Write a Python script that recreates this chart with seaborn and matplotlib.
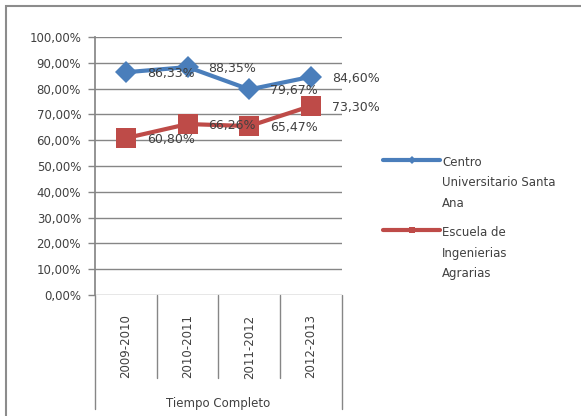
import pandas as pd
import matplotlib
matplotlib.use("Agg")
import matplotlib.pyplot as plt
import matplotlib.patches as mpatches
from matplotlib.ticker import FuncFormatter
import seaborn as sns

# Werte
periodos = ["2009-2010", "2010-2011", "2011-2012", "2012-2013"]
centro_santa_ana = [86.33, 88.35, 79.67, 84.60]
escuela_agrarias = [60.80, 66.26, 65.47, 73.30]
serie_nombres = ["Centro\nUniversitario Santa\nAna", "Escuela de\nIngenierias\nAgrarias"]
eje_x_titulo = "Tiempo Completo"

df = pd.concat([
    pd.DataFrame({"periodo": periodos, "valor": centro_santa_ana, "serie": serie_nombres[0]}),
    pd.DataFrame({"periodo": periodos, "valor": escuela_agrarias, "serie": serie_nombres[1]}),
])

sns.set_theme(style="white")
plt.rcParams["font.family"] = ["DejaVu Sans"]

fig = plt.figure(figsize=(5.81, 4.16), dpi=100)
ax = fig.add_axes([95 / 581, 1 - 295 / 416, 247 / 581, 258 / 416])

colores = {serie_nombres[0]: "#4a7ebb", serie_nombres[1]: "#be4b48"}
marcadores = {serie_nombres[0]: "D", serie_nombres[1]: "s"}

sns.lineplot(
    data=df, x="periodo", y="valor", hue="serie", style="serie",
    palette=colores, markers=marcadores, dashes=False,
    linewidth=3, markersize=12, markeredgewidth=0, ax=ax, sort=False,
)

# Groesse der Marker je Serie anpassen
for linea, nombre in zip(ax.lines, serie_nombres):
    linea.set_markersize(11 if marcadores[nombre] == "D" else 14)
    linea.set_zorder(3)

# Datenbeschriftungen rechts neben den Punkten
for valores in [centro_santa_ana, escuela_agrarias]:
    for i, v in enumerate(valores):
        ax.annotate(f"{v:.2f}%".replace(".", ","), (i, v), xytext=(15, -1),
                    textcoords="offset points", va="center", ha="left",
                    fontsize=9, color="#404040", zorder=5)

ax.set_ylim(0, 100)
ax.set_xlim(-0.5, len(periodos) - 0.5)
ax.set_yticks(range(0, 101, 10))
ax.yaxis.set_major_formatter(FuncFormatter(lambda v, p: f"{v:.2f}%".replace(".", ",")))
ax.grid(axis="y", color="#868686", linewidth=1)
ax.set_axisbelow(True)
for s in ["top", "right", "bottom"]:
    ax.spines[s].set_visible(False)
ax.spines["left"].set_color("#868686")
ax.tick_params(axis="y", left=True, length=5, width=1, color="#868686",
               pad=5, labelsize=8.5, labelcolor="#404040")
ax.tick_params(axis="x", bottom=False, pad=8, labelsize=8.5, labelcolor="#404040")
plt.setp(ax.get_xticklabels(), rotation=90, va="top")
ax.set_xlabel(eje_x_titulo, fontsize=8.5, color="#404040", labelpad=13)
ax.set_ylabel("")

# Trennlinien der Kategorien unter der Achse
trans = ax.get_xaxis_transform()
for k in range(len(periodos) + 1):
    unten = -0.44 if k in (0, len(periodos)) else -0.32
    ax.plot([k - 0.5, k - 0.5], [0, unten], transform=trans, color="#868686",
            linewidth=1, clip_on=False)

# Legende
leg = ax.legend(handlelength=4.9, fontsize=8.5, frameon=False, loc="upper left",
                bbox_to_anchor=(372 / 581, 1 - 145 / 416), bbox_transform=fig.transFigure,
                labelspacing=1.4, handletextpad=0.15, labelcolor="#404040")
for h in leg.legend_handles:
    h.set_markersize(4)
    h.set_linewidth(3)
for t in leg.get_texts():
    t.set_linespacing(1.75)
# Linie auf Hoehe der ersten Textzeile
for spalte in leg._legend_handle_box.get_children():
    for eintrag in spalte.get_children():
        eintrag.align = "top"

# Rahmen um das ganze Diagramm
fig.patches.append(mpatches.Rectangle((6 / 581, -0.1), 1.2, 1 - 6 / 416 + 0.1,
                                      transform=fig.transFigure, fill=False,
                                      edgecolor="#8c8c8c", linewidth=1.5))

fig.savefig("out.png", dpi=100)
